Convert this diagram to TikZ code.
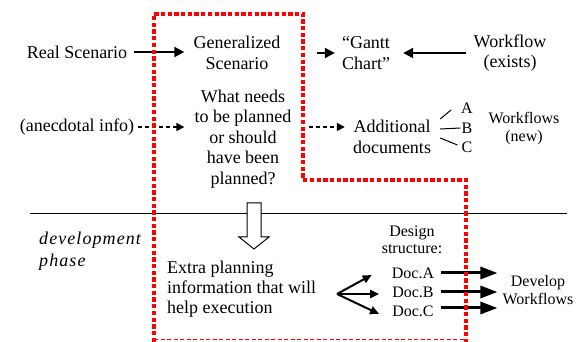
\documentclass[tikz,border=0pt]{standalone}
\usepackage{fontspec}
\setmainfont{Liberation Serif}
\usetikzlibrary{arrows.meta}

\begin{document}
\begin{tikzpicture}
[x=1pt,y=-1pt,%
  every node/.style={inner sep=2pt,align=center,font=\fontsize{18}{20.5}\selectfont},%
  small/.style={font=\fontsize{16}{18}\selectfont},%
  arr/.style={line width=2pt,-{Triangle[length=10pt,width=10pt]}},%
  dasharr/.style={line width=1.6pt,dash pattern=on 4pt off 3pt,-{Triangle[length=8pt,width=8pt]}},%
  forkarr/.style={line width=2pt,-{Triangle[length=9pt,width=8pt]}},%
  bigarr/.style={line width=3pt,-{Triangle[length=17pt,width=12pt]}},%
  redline/.style={red,line width=4.5pt,dash pattern=on 4.3pt off 2.4pt}]
\useasboundingbox (0,0) rectangle (582,342);
% planning part
\node (real) at (77,52) {Real Scenario};
\node (gen) at (237,53) {Generalized\\Scenario};
\node (gantt) at (366,53) {“Gantt\\Chart”};
\node (wfex) at (510,53) {Workflow\\(exists)};
\node (anec) at (77,127) {(anecdotal info)};
\node (what) at (243,139) {What needs\\to be planned\\or should\\have been\\planned?};
\node (addl) at (392,137) {Additional\\documents};
\node[small,inner sep=1pt] (labA) at (467,108) {A};
\node[small,inner sep=1pt] (labB) at (467,128) {B};
\node[small,inner sep=1pt] (labC) at (467,147) {C};
\node[small] (wfnew) at (524,129) {Workflows\\(new)};
\draw[arr,shorten <=5pt,shorten >=7pt] (real.east) -- (gen.west |- real.east);
\draw[arr,shorten <=34pt,shorten >=5pt] (gen.east) -- (gantt.west |- gen.east);
\draw[arr,shorten <=6pt,shorten >=11pt] (wfex.west) -- (gantt.east |- wfex.west);
\draw[dasharr,shorten <=2pt,shorten >=8pt] (anec.east) -- (what.west |- anec.east);
\draw[dasharr,shorten <=15pt,shorten >=6pt] (what.east |- anec) -- (addl.west |- anec);
\draw[line width=1pt] ([shift={(7,-18)}]addl.east) -- ([shift={(-9,2)}]labA.west);
\draw[line width=1pt] ([shift={(7,-8)}]addl.east) -- (labB.west);
\draw[line width=1pt] ([shift={(7,1)}]addl.east) -- ([shift={(-3,-2)}]labC.west);
% development phase
\draw[line width=1pt] (30,214) -- (567,214);
\draw[fill=white,line width=1pt] (247,203) -- (261,203) -- (261,237) -- (269,237)
  -- (254,249) -- (239,237) -- (247,237) -- cycle;
\node[anchor=west,align=left,font={\fontsize{18}{22}\selectfont\itshape\addfontfeature{LetterSpace=6}}]
  (dev) at (37,251) {development\\phase};
\node[anchor=west,align=left,font=\fontsize{18}{20}\selectfont] (extra) at (165,289)
  {Extra planning\\information that will\\help execution};
\node[small,font=\fontsize{16}{17}\selectfont] (design) at (412,239.5) {Design\\structure:};
\node[small] (docA) at (413,273) {Doc.A};
\node[small] (docB) at (413,292) {Doc.B};
\node[small] (docC) at (413,311) {Doc.C};
\node[small] (develop) at (538,290) {Develop\\Workflows};
\coordinate (fork) at (337,294);
\draw[forkarr] (fork) -- ([shift={(-18,2)}]docA.west);
\draw[forkarr] (fork) -- ([shift={(-11,2)}]docB.west);
\draw[forkarr] (fork) -- ([shift={(-11,3)}]docC.west);
\draw[bigarr,shorten <=5pt,shorten >=3pt] (docA.east) -- (docA.east -| develop.west);
\draw[bigarr,shorten <=5pt,shorten >=3pt] (docB.east) -- (docB.east -| develop.west);
\draw[bigarr,shorten <=5pt,shorten >=3pt] ([shift={(0,-3)}]docC.east) -- ([shift={(0,-3)}]docC.east -| develop.west);
% scope of the method
\draw[redline] (154,342) -- (154,14) -- (303,14) -- (303,180) -- (466,180) -- (466,342);
\draw[red,line width=1pt,dash pattern=on 4pt off 2.5pt] (154,340) -- (466,340);
\end{tikzpicture}
\end{document}
